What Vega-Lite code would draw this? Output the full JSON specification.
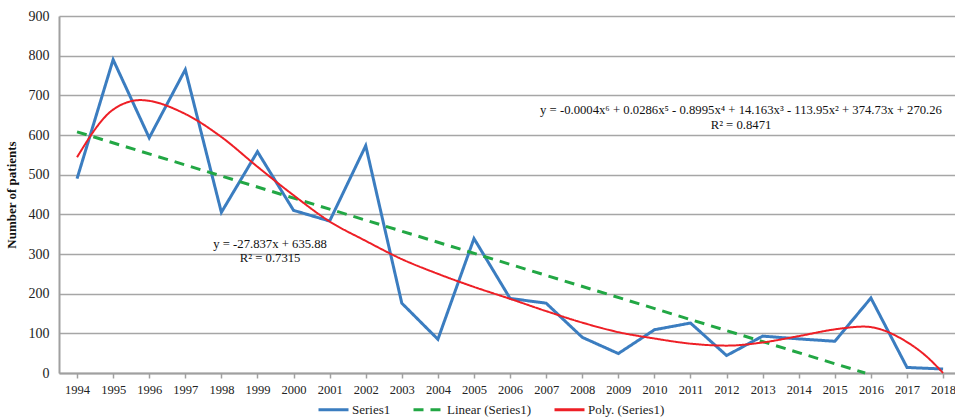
{
  "$schema": "https://vega.github.io/schema/vega-lite/v6.json",
  "width": 896,
  "height": 357,
  "autosize": "none",
  "padding": {"left": 59, "top": 16, "right": 0, "bottom": 47},
  "background": "white",
  "config": {
    "view": {"stroke": null},
    "font": "Liberation Serif",
    "axis": {"labelFont": "Liberation Serif", "titleFont": "Liberation Serif", "labelColor": "#222222", "labelFontSize": 13},
    "legend": {"labelFont": "Liberation Serif", "labelFontSize": 13, "labelColor": "#222222"}
  },
  "datasets": {
    "obs": [
      {"year": 1994, "value": 490, "series": "Series1"},
      {"year": 1995, "value": 790, "series": "Series1"},
      {"year": 1996, "value": 593, "series": "Series1"},
      {"year": 1997, "value": 765, "series": "Series1"},
      {"year": 1998, "value": 405, "series": "Series1"},
      {"year": 1999, "value": 558, "series": "Series1"},
      {"year": 2000, "value": 410, "series": "Series1"},
      {"year": 2001, "value": 383, "series": "Series1"},
      {"year": 2002, "value": 573, "series": "Series1"},
      {"year": 2003, "value": 176, "series": "Series1"},
      {"year": 2004, "value": 85, "series": "Series1"},
      {"year": 2005, "value": 339, "series": "Series1"},
      {"year": 2006, "value": 188, "series": "Series1"},
      {"year": 2007, "value": 176, "series": "Series1"},
      {"year": 2008, "value": 90, "series": "Series1"},
      {"year": 2009, "value": 49, "series": "Series1"},
      {"year": 2010, "value": 109, "series": "Series1"},
      {"year": 2011, "value": 126, "series": "Series1"},
      {"year": 2012, "value": 44, "series": "Series1"},
      {"year": 2013, "value": 93, "series": "Series1"},
      {"year": 2014, "value": 86, "series": "Series1"},
      {"year": 2015, "value": 80, "series": "Series1"},
      {"year": 2016, "value": 189, "series": "Series1"},
      {"year": 2017, "value": 14, "series": "Series1"},
      {"year": 2018, "value": 10, "series": "Series1"}
    ],
    "lin": [
      {"year": 1994, "value": 608, "series": "Linear (Series1)"},
      {"year": 2015.84, "value": 0, "series": "Linear (Series1)"}
    ],
    "poly": [
      {"year": 1994, "value": 544, "series": "Poly. (Series1)"},
      {"year": 1995, "value": 664, "series": "Poly. (Series1)"},
      {"year": 1995.75, "value": 688, "series": "Poly. (Series1)"},
      {"year": 1997, "value": 653, "series": "Poly. (Series1)"},
      {"year": 1998, "value": 595, "series": "Poly. (Series1)"},
      {"year": 1999, "value": 520, "series": "Poly. (Series1)"},
      {"year": 2000, "value": 448, "series": "Poly. (Series1)"},
      {"year": 2001, "value": 382, "series": "Poly. (Series1)"},
      {"year": 2002, "value": 333, "series": "Poly. (Series1)"},
      {"year": 2003, "value": 287, "series": "Poly. (Series1)"},
      {"year": 2004, "value": 250, "series": "Poly. (Series1)"},
      {"year": 2005, "value": 217, "series": "Poly. (Series1)"},
      {"year": 2006, "value": 187, "series": "Poly. (Series1)"},
      {"year": 2007, "value": 156, "series": "Poly. (Series1)"},
      {"year": 2008, "value": 127, "series": "Poly. (Series1)"},
      {"year": 2009, "value": 103, "series": "Poly. (Series1)"},
      {"year": 2010, "value": 87, "series": "Poly. (Series1)"},
      {"year": 2011, "value": 74, "series": "Poly. (Series1)"},
      {"year": 2012, "value": 69, "series": "Poly. (Series1)"},
      {"year": 2013, "value": 77, "series": "Poly. (Series1)"},
      {"year": 2014, "value": 93, "series": "Poly. (Series1)"},
      {"year": 2015, "value": 110, "series": "Poly. (Series1)"},
      {"year": 2015.8, "value": 117, "series": "Poly. (Series1)"},
      {"year": 2017, "value": 78, "series": "Poly. (Series1)"},
      {"year": 2017.5, "value": 45, "series": "Poly. (Series1)"},
      {"year": 2018, "value": 0, "series": "Poly. (Series1)"}
    ],
    "notes": [
      {"label": "y = -0.0004x⁶ + 0.0286x⁵ - 0.8995x⁴ + 14.163x³ - 113.95x² + 374.73x + 270.26", "year": 2012.4, "value": 663},
      {"label": "R² = 0.8471", "year": 2012.4, "value": 625},
      {"label": "y = -27.837x + 635.88", "year": 1999.35, "value": 325},
      {"label": "R² = 0.7315", "year": 1999.35, "value": 290}
    ]
  },
  "encoding": {
    "x": {
      "field": "year", "type": "quantitative",
      "scale": {"domain": [1993.5, 2018.33], "nice": false, "zero": false},
      "axis": {
        "title": null, "values": [1994,1995,1996,1997,1998,1999,2000,2001,2002,2003,2004,2005,2006,2007,2008,2009,2010,2011,2012,2013,2014,2015,2016,2017,2018],
        "format": "d", "grid": false, "domainColor": "#a0a0a0", "domainWidth": 2, "labelFontSize": 12.5, "labelFont": "Liberation Serif",
        "tickColor": "#a0a0a0", "tickSize": 5, "tickWidth": 1.5, "labelPadding": 5, "labelFlush": false, "labelOverlap": false
      }
    },
    "y": {
      "field": "value", "type": "quantitative",
      "scale": {"domain": [0, 900], "nice": false},
      "axis": {
        "title": "Number of patients", "titleFontWeight": "bold", "titleFontSize": 13, "titleColor": "#111111", "titlePadding": 10, "titleFont": "Liberation Serif",
        "values": [0,100,200,300,400,500,600,700,800,900], "grid": true, "gridColor": "#a6a6a6", "gridWidth": 1.5, "labelFont": "Liberation Serif", "labelFontSize": 14,
        "domainColor": "#a0a0a0", "domainWidth": 2, "ticks": false, "labelPadding": 10
      }
    }
  },
  "layer": [
    {
      "data": {"name": "obs"},
      "mark": {"type": "line", "strokeWidth": 3},
      "encoding": {
        "color": {
          "field": "series", "type": "nominal",
          "scale": {"domain": ["Series1", "Linear (Series1)", "Poly. (Series1)"], "range": ["#3b7dc0", "#22a744", "#ee1f26"]},
          "legend": {"title": null, "orient": "none", "legendX": 258, "legendY": 377, "direction": "horizontal", "symbolType": "stroke", "symbolSize": 900, "symbolStrokeWidth": 3, "columnPadding": 16, "labelOffset": 2, "labelFont": "Liberation Serif", "labelFontSize": 13}
        },
        "strokeDash": {
          "field": "series", "type": "nominal",
          "scale": {"domain": ["Series1", "Linear (Series1)", "Poly. (Series1)"], "range": [[1, 0], [10, 7], [1, 0]]},
          "legend": {"title": null, "orient": "none", "legendX": 258, "legendY": 377, "direction": "horizontal", "symbolType": "stroke", "symbolSize": 900, "symbolStrokeWidth": 3, "columnPadding": 16, "labelOffset": 2, "labelFont": "Liberation Serif", "labelFontSize": 13}
        }
      }
    },
    {
      "data": {"name": "lin"},
      "mark": {"type": "line", "strokeWidth": 3},
      "encoding": {
        "color": {"field": "series", "type": "nominal"},
        "strokeDash": {"field": "series", "type": "nominal"}
      }
    },
    {
      "data": {"name": "poly"},
      "mark": {"type": "line", "strokeWidth": 2, "interpolate": "monotone"},
      "encoding": {
        "color": {"field": "series", "type": "nominal"},
        "strokeDash": {"field": "series", "type": "nominal"}
      }
    },
    {
      "data": {"name": "notes"},
      "mark": {"type": "text", "font": "Liberation Serif", "fontSize": 12.7, "color": "#111111"},
      "encoding": {
        "text": {"field": "label"}
      }
    }
  ]
}
